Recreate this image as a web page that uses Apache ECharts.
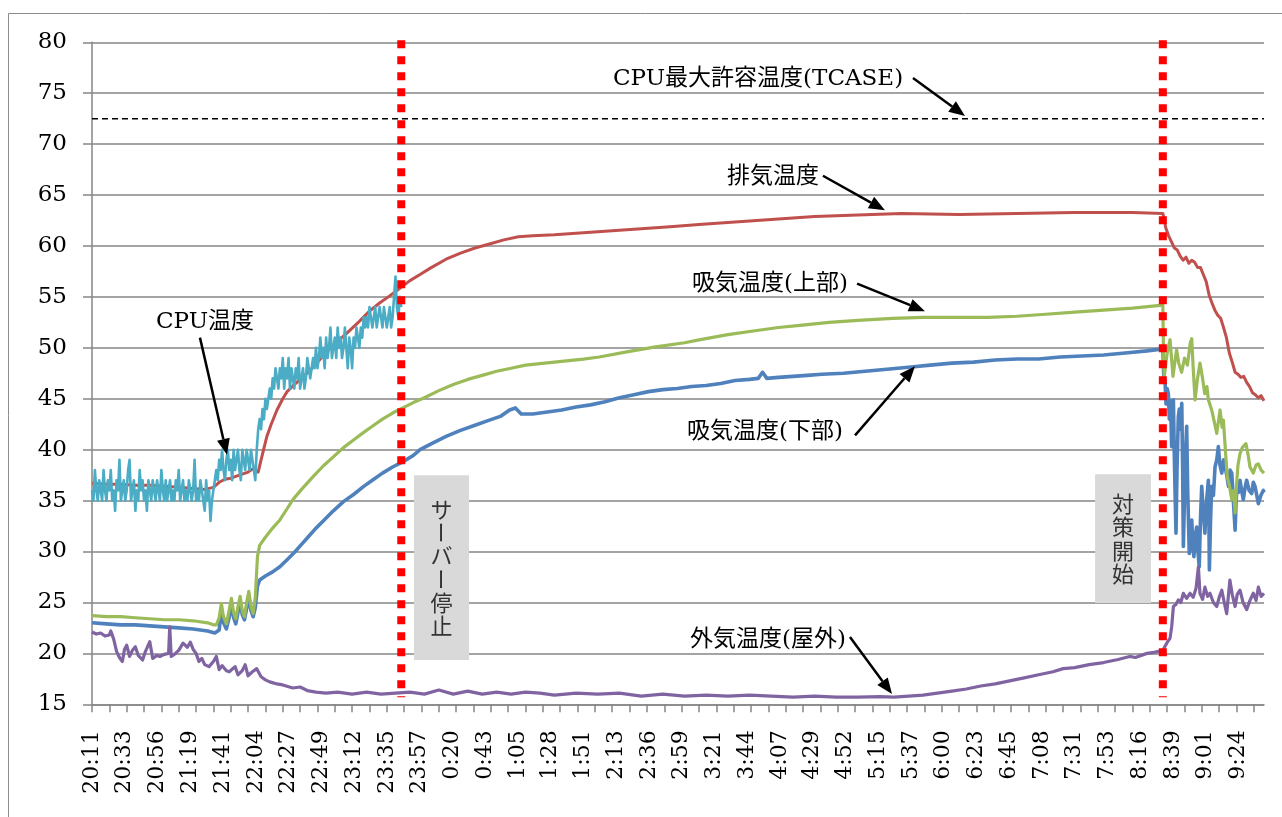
<!DOCTYPE html>
<html>
<head>
<meta charset="utf-8">
<script src="https://cdn.jsdelivr.net/npm/echarts@6/dist/echarts.min.js"></script>
<style>
  html, body { margin: 0; padding: 0; background: #fff; }
  #chart { width: 1282px; height: 817px; }
</style>
</head>
<body>
<div id="chart"></div>
<script>
// ---- time axis: minutes elapsed since 20:11 ----
const timeLabels = ['20:11','20:33','20:56','21:19','21:41','22:04','22:27','22:49','23:12','23:35',
  '23:57','0:20','0:43','1:05','1:28','1:51','2:13','2:36','2:59','3:21','3:44','4:07','4:29','4:52',
  '5:15','5:37','6:00','6:23','6:45','7:08','7:31','7:53','8:16','8:39','9:01','9:24'];

// CPU温度 (°C), one sample per minute from 20:11 until the server stop
const cpuTemp = [
  36,35,38,36,35,37,36,35,38,36, 35,37,36,38,35,36,34,37,36,39,
  35,36,37,35,36,38,39,35,36,37, 34,36,35,38,36,37,35,36,34,37,
  36,35,37,36,35,37,36,35,38,36, 35,37,35,36,37,35,36,35,37,36,
  38,35,36,37,35,36,35,37,36,35, 36,39,35,36,35,37,36,35,34,37,
  35,36,33,35,36,
  37,38,37,39,38,40,38,37,39,40, 38,39,37,40,38,39,40,38,37,40,
  39,38,40,39,38,40,39,38,37,40,
  42,43,42,44,43,45,44,45,46,45,47,46,48,47,46,48,
  47,49,46,48,47,49,46,48,47,46, 48,47,49,46,47,48,46,47,49,48,
  47,48,49,48,50,48,49,51,49,50, 48,51,49,50,52,49,50,51,49,52,
  50,51,49,50,52,50,48,51,50,48, 51,50,52,51,50,52,51,53,52,53,
  52,54,53,52,53,54,52,53,54,53, 52,54,53,52,53,54,52,53,55,57,
  54,53,55,54
];

// 排気温度 (°C): [minute, value]
const exhaustTemp = [
  [0,36.7],[10,36.6],[20,36.6],[30,36.5],[40,36.5],[50,36.4],[60,36.3],[70,36.2],[78,36.1],[84,36.3],
  [88,36.8],[92,37.1],[96,37.2],[100,37.4],[104,37.6],[108,37.8],[111,38.1],[113,37.9],[115,37.8],
  [117,39.0],[121,41.3],[124,42.5],[128,43.9],[132,45.0],[135,45.7],[140,46.4],[145,47.0],[151,47.8],
  [158,48.9],[165,50.0],[172,50.9],[176,51.4],[185,52.6],[192,53.6],[199,54.4],[206,55.1],[213,55.85],
  [220,56.6],[227,57.2],[235,57.9],[245,58.7],[255,59.3],[265,59.8],[275,60.2],[285,60.6],[295,60.9],
  [305,61.0],[320,61.1],[340,61.3],[360,61.5],[380,61.7],[400,61.9],[420,62.1],[440,62.3],[460,62.5],
  [480,62.7],[500,62.9],[520,63.0],[540,63.1],[560,63.2],[600,63.1],[640,63.2],[680,63.3],[720,63.3],
  [741,63.2],[742,62.6],[743,61.8],[745,61.0],[747,60.4],[749,59.8],[751,59.6],[753,59.0],[755,58.6],
  [757,58.9],[759,58.3],[761,58.6],[763,58.4],[765,57.9],[767,57.9],[769,57.2],[771,56.5],[773,55.2],
  [775,54.4],[777,53.7],[779,53.2],[781,52.9],[783,52.0],[785,51.0],[787,49.5],[789,48.6],[791,47.6],
  [793,47.4],[795,47.1],[797,47.2],[799,46.6],[801,46.2],[803,45.6],[805,45.4],[807,45.1],[809,45.3],
  [811,44.8]
];

// 吸気温度(上部) (°C)
const intakeUpper = [
  [0,23.7],[10,23.6],[20,23.6],[30,23.5],[40,23.4],[50,23.3],[60,23.3],[70,23.2],[80,23.0],[84,22.8],
  [86,22.8],[88,23.5],[89.5,24.9],[91,23.6],[93,22.9],[95,24.3],[96.5,25.4],[98,24.0],[99.5,23.4],
  [101,24.6],[102.5,25.6],[104,24.2],[105.5,23.6],[107,25.0],[108.5,26.1],[110,24.6],[111.5,23.9],
  [113,25.5],[114.5,29.5],[116,30.6],[120,31.4],[125,32.3],[130,33.1],[135,34.2],[139,35.1],[145,36.1],
  [153,37.35],[160,38.4],[167,39.3],[174,40.2],[181,40.95],[188,41.7],[194,42.3],[201,43.0],[208,43.6],
  [215,44.1],[222,44.6],[230,45.1],[240,45.8],[250,46.4],[260,46.9],[270,47.3],[280,47.7],[290,48.0],
  [300,48.3],[320,48.6],[340,48.9],[351,49.1],[370,49.6],[390,50.1],[410,50.5],[421,50.8],[440,51.3],
  [460,51.7],[475,52.0],[490,52.2],[510,52.5],[530,52.7],[554,52.9],[575,53.0],[600,53.0],[620,53.0],
  [640,53.1],[660,53.3],[680,53.5],[700,53.7],[720,53.9],[741,54.2],
  [741.5,49.0],[742,47.2],[744,49.5],[746,50.8],[748,47.2],[750.5,49.8],[752,48.5],[754,47.6],[756,49.0],
  [758,48.3],[760,50.5],[761,50.9],[762,48.0],[763.3,44.9],[765,47.0],[766.7,48.5],[768.5,47.0],
  [770,45.5],[771.5,46.2],[772.5,44.9],[774.8,43.9],[776.5,42.8],[778.3,41.6],[780.6,43.9],[782,42.2],
  [782.9,42.9],[784.5,39.5],[785.6,37.3],[787,36.5],[788.7,35.1],[790,36.0],[791,33.8],[792,36.5],
  [793,38.5],[794.4,39.6],[796,40.2],[798.5,40.6],[800,39.5],[801.3,38.3],[803.6,37.7],[805.5,38.5],
  [807.1,38.6],[809,38.0],[811,37.7]
];

// 吸気温度(下部) (°C)
const intakeLower = [
  [0,23.0],[10,22.9],[20,22.8],[30,22.8],[40,22.7],[50,22.6],[60,22.5],[70,22.4],[80,22.2],[85,22.0],
  [88,22.3],[89.5,24.2],[91,23.0],[93,22.4],[95,23.6],[96.5,24.8],[98,23.5],[99.5,22.9],[101,24.0],
  [102.5,25.0],[104,23.8],[105.5,23.3],[107,24.4],[108.5,25.6],[110,24.2],[111.5,23.6],[113,24.5],
  [114.5,26.6],[116,27.2],[120,27.6],[125,28.0],[130,28.5],[135,29.2],[140,29.9],[145,30.7],[150,31.5],
  [155,32.3],[160,33.0],[167,34.0],[174,34.9],[181,35.6],[188,36.4],[194,37.0],[201,37.7],[208,38.3],
  [215,38.8],[222,39.4],[227,40.0],[235,40.6],[245,41.3],[255,41.9],[265,42.4],[275,42.9],[283,43.3],
  [289,43.9],[293,44.1],[297,43.5],[305,43.5],[315,43.7],[325,43.9],[335,44.2],[345,44.4],[355,44.7],
  [365,45.1],[375,45.4],[385,45.7],[395,45.9],[405,46.0],[415,46.2],[425,46.3],[435,46.5],[445,46.8],
  [455,46.9],[461,47.0],[464,47.6],[467,47.0],[475,47.1],[485,47.2],[495,47.3],[505,47.4],[520,47.5],
  [535,47.7],[550,47.9],[565,48.1],[580,48.3],[595,48.5],[610,48.6],[625,48.8],[640,48.9],[655,48.9],
  [670,49.1],[685,49.2],[700,49.3],[715,49.5],[730,49.7],[741,49.9],
  [741.7,47.0],[742.5,46.8],[743.2,44.5],[744,46.0],[744.8,45.5],[745.5,43.0],[746.3,44.8],[747.1,40.3],
  [747.7,43.5],[748.3,44.9],[749,39.0],[749.6,35.0],[750.1,31.8],[750.8,38.0],[751.7,43.2],[752.4,44.0],
  [753.2,42.0],[754.1,44.55],[754.7,38.0],[755.2,30.5],[756,35.5],[756.8,40.0],[757.5,42.3],[758.2,36.0],
  [759.3,29.8],[760.2,31.0],[761,33.1],[761.8,30.5],[762.5,29.5],[763.4,31.5],[764.4,32.4],[765.3,30.0],
  [766.2,28.5],[767,33.0],[767.9,36.4],[769,34.0],[770.1,31.8],[771.3,35.0],[772.5,37.0],[772.9,33.0],
  [773.2,28.2],[774,33.0],[774.8,36.4],[776,35.5],[777.1,38.3],[778.3,39.0],[779.4,40.3],[780.5,38.5],
  [781.8,37.7],[783,39.0],[784.1,38.3],[785.2,37.5],[786.4,36.4],[787.5,38.0],[788.7,37.7],[789.8,35.0],
  [791,32.1],[791.6,34.5],[792.2,36.4],[793.3,35.8],[794.4,37.0],[795.5,36.0],[796.7,35.1],[797.8,36.2],
  [799,37.0],[800.7,36.0],[802.5,35.7],[803.6,36.8],[804.8,36.4],[806,35.5],[807.1,34.7],[808.8,35.5],
  [810.5,36.0],[811,35.8]
];

// 外気温度(屋外) (°C)
const outdoorTemp = [
  [0,22.1],[3,21.9],[6,22.0],[9,21.7],[12,21.8],[13,22.2],[15,21.4],[17,20.2],[19,19.6],[21,19.2],
  [22.5,20.4],[24,20.8],[26,19.7],[28,20.3],[30,20.65],[32,19.8],[35,19.35],[37,20.2],[40,21.15],
  [42,19.5],[45,19.8],[47,19.7],[50,19.9],[53,20.0],[53.8,22.6],[54.8,19.7],[57,19.9],[60,20.3],
  [63,21.0],[66,20.6],[68,21.1],[70,20.4],[72,20.0],[74,19.2],[76,19.5],[78,18.9],[81,18.7],[84,19.2],
  [86,19.7],[88,18.4],[90,18.8],[93,18.3],[95,18.2],[99,18.7],[101,17.9],[104,18.3],[106,18.9],
  [108,17.8],[111,18.2],[114,18.5],[117,17.7],[120,17.4],[123,17.2],[128,17.0],[132,16.9],[139,16.6],
  [144,16.7],[149,16.35],[155,16.2],[162,16.1],[170,16.2],[180,16.0],[190,16.2],[200,16.0],[210,16.1],
  [220,16.2],[230,16.0],[240,16.4],[250,16.0],[260,16.3],[270,16.0],[280,16.2],[290,16.0],[300,16.2],
  [310,16.1],[320,15.9],[335,16.1],[350,16.0],[365,16.1],[380,15.8],[395,16.0],[410,15.8],[425,15.9],
  [440,15.8],[455,15.9],[470,15.8],[485,15.7],[500,15.8],[515,15.7],[530,15.7],[545,15.75],[555,15.7],
  [565,15.8],[575,15.9],[585,16.1],[595,16.3],[605,16.5],[615,16.8],[625,17.0],[635,17.3],[645,17.6],
  [655,17.9],[665,18.2],[672,18.5],[680,18.6],[690,18.9],[700,19.1],[710,19.4],[718,19.7],[722,19.6],
  [730,20.0],[735,20.1],[741,20.3],[743.7,21.0],[746,21.5],[747.1,22.6],[748.3,24.6],[750,24.8],
  [751.7,25.25],[753.5,25.0],[755.2,25.9],[757.5,25.4],[759.8,25.9],[762,25.5],[764,26.4],[765.6,28.5],
  [766.7,25.9],[768.5,25.3],[770.1,26.5],[772,25.6],[773.6,25.9],[776,25.0],[778.3,24.6],[780,25.5],
  [781.8,26.2],[783.5,25.0],[785.2,23.9],[787.4,27.2],[789,25.8],[791,24.6],[792.5,25.8],[794.4,26.2],
  [796.5,25.0],[799,24.3],[801.3,25.2],[803.6,25.9],[805.5,25.2],[807.1,26.5],[809,25.6],[811,25.9]
];

// CPU maximum case temperature (°C)
const tcaseLimit = 72.5;
// event times in minutes: server stopped (23:45), countermeasure started (8:32)
const eventTimes = [214, 741];

// ---- layout / styling ----
const SERIF = "'DejaVu Serif', 'Noto Sans CJK JP', serif";
const X_MAX = 811;             // 20:11 .. 9:42
const LABEL_STEP = 68 / 3;     // minutes between time labels
const TICK_STEP = 12;          // minutes between tick marks
const GRID_GRAY = '#868686';

const labelPositions = timeLabels.map((_, i) => i * LABEL_STEP);
const tickPositions = [];
for (let t = 0; t <= X_MAX; t += TICK_STEP) tickPositions.push(t);

// callouts: text centre and arrow (tail -> head), in chart coordinates
const callouts = [
  { text: 'CPU最大許容温度(TCASE)', at: [460.9, 76.4], from: [568.1, 76.5], to: [604.1, 72.76] },
  { text: '排気温度',               at: [471.2, 66.8], from: [505.8, 66.9], to: [548.7, 63.5] },
  { text: '吸気温度(上部)',         at: [469.2, 56.3], from: [529.4, 56.3], to: [576.4, 53.6] },
  { text: '吸気温度(下部)',         at: [465.7, 41.7], from: [528.0, 41.4], to: [569.5, 48.2] },
  { text: '外気温度(屋外)',         at: [467.8, 21.3], from: [524.5, 21.6], to: [553.6, 16.0] },
  { text: 'CPU温度',                at: [78.2, 52.5],  from: [74.7, 51.0],  to: [93.4, 39.5] }
];
// grey boxes with vertical captions
const captionBoxes = [
  { text: 'サーバー停止', x0: 222.8, x1: 260.9, top: 37.5, bottom: 19.35 },
  { text: '対策開始',     x0: 694.1, x1: 732.8, top: 37.6, bottom: 24.95 }
];

function lineSeries(name, data, color, width, z) {
  return {
    name, type: 'line', data, z,
    showSymbol: false, symbol: 'none', sampling: null, silent: true,
    lineStyle: { color, width, join: 'round' }
  };
}

const chart = echarts.init(document.getElementById('chart'), null, { renderer: 'canvas' });

const option = {
  animation: false,
  backgroundColor: '#ffffff',
  textStyle: { fontFamily: SERIF },
  graphic: [{
    type: 'rect', silent: true, z: -10,
    shape: { x: 8.5, y: 13.5, width: 1400, height: 900 },
    style: { fill: 'none', stroke: '#8c8c8c', lineWidth: 1 }
  }],
  grid: { left: 92, right: 18, top: 42.3, bottom: 112.7, containLabel: false },
  xAxis: {
    type: 'value', min: 0, max: X_MAX,
    axisLine: { show: true, onZero: false, lineStyle: { color: GRID_GRAY, width: 1.5 } },
    axisTick: { show: true, length: 8, customValues: tickPositions, lineStyle: { color: GRID_GRAY, width: 1.5 } },
    axisLabel: {
      show: true, customValues: labelPositions, rotate: 90, margin: 26,
      fontSize: 22, color: '#000', fontFamily: SERIF,
      formatter: (v) => {
        const k = Math.round(v / LABEL_STEP);
        return Math.abs(v - k * LABEL_STEP) < 0.01 && timeLabels[k] ? timeLabels[k] : '';
      }
    },
    splitLine: { show: false }
  },
  yAxis: {
    type: 'value', min: 15, max: 80, interval: 5,
    axisLine: { show: true, lineStyle: { color: GRID_GRAY, width: 1.5 } },
    axisTick: { show: true, length: 9, lineStyle: { color: GRID_GRAY, width: 1.5 } },
    axisLabel: { fontSize: 23, margin: 25, color: '#000', fontFamily: SERIF },
    splitLine: { show: true, lineStyle: { color: GRID_GRAY, width: 1.5 } }
  },
  series: [
    {
      name: 'CPU最大許容温度(TCASE)', type: 'line', z: 3, silent: true,
      showSymbol: false, symbol: 'none',
      data: [[0, tcaseLimit], [X_MAX, tcaseLimit]],
      lineStyle: { color: '#000', width: 1.5, type: [6, 4] }
    },
    lineSeries('吸気温度(下部)', intakeLower, '#4F81BD', 3.6, 4),
    lineSeries('排気温度', exhaustTemp, '#C0504D', 3, 5),
    lineSeries('吸気温度(上部)', intakeUpper, '#9BBB59', 3.2, 6),
    lineSeries('外気温度(屋外)', outdoorTemp, '#8064A2', 3.2, 7),
    lineSeries('CPU温度', cpuTemp.map((v, i) => [i, v]), '#4BACC6', 2.6, 8),
    {
      // grey caption boxes
      type: 'custom', coordinateSystem: 'cartesian2d', silent: true, clip: false, z: 9,
      data: captionBoxes.map(b => [b.x0, b.top]),
      renderItem(params, api) {
        const b = captionBoxes[params.dataIndex];
        const p0 = api.coord([b.x0, b.top]);
        const p1 = api.coord([b.x1, b.bottom]);
        const chars = Array.from(b.text);
        const cx = (p0[0] + p1[0]) / 2, cy = (p0[1] + p1[1]) / 2;
        const step = 23.3;
        const children = [{
          type: 'rect',
          shape: { x: p0[0], y: p0[1], width: p1[0] - p0[0], height: p1[1] - p0[1] },
          style: { fill: '#D9D9D9' }
        }];
        chars.forEach((ch, k) => {
          children.push({
            type: 'text',
            x: cx, y: cy + (k - (chars.length - 1) / 2) * step,
            rotation: ch === 'ー' ? -Math.PI / 2 : 0,
            style: {
              text: ch, x: 0, y: 0, align: 'center', verticalAlign: 'middle',
              fontSize: 22, fontFamily: "'Noto Sans CJK JP', sans-serif", fill: '#333'
            }
          });
        });
        return { type: 'group', children };
      }
    },
    {
      // dotted event markers
      type: 'custom', coordinateSystem: 'cartesian2d', silent: true, clip: false, z: 10,
      data: eventTimes.map(t => [t, 80]),
      renderItem(params, api) {
        const t = api.value(0);
        const a = api.coord([t, 80.2]);
        const b = api.coord([t, 15.7]);
        return {
          type: 'line',
          shape: { x1: a[0], y1: a[1], x2: b[0], y2: b[1] },
          style: { stroke: '#FF0000', lineWidth: 8, lineDash: [8, 8], lineCap: 'butt' }
        };
      }
    },
    {
      // callout texts and arrows
      type: 'custom', coordinateSystem: 'cartesian2d', silent: true, clip: false, z: 11,
      data: callouts.map(c => c.at),
      renderItem(params, api) {
        const c = callouts[params.dataIndex];
        const t = api.coord(c.at);
        const p1 = api.coord(c.from);
        const p2 = api.coord(c.to);
        const dx = p2[0] - p1[0], dy = p2[1] - p1[1];
        const len = Math.hypot(dx, dy), ux = dx / len, uy = dy / len;
        const head = 16, half = 6.5;
        const bx = p2[0] - ux * head, by = p2[1] - uy * head;
        return {
          type: 'group',
          children: [
            {
              type: 'text', x: t[0], y: t[1],
              style: {
                text: c.text, x: 0, y: 0, align: 'center', verticalAlign: 'middle',
                fontSize: 23, fontFamily: SERIF, fill: '#000'
              }
            },
            {
              type: 'line',
              shape: { x1: p1[0], y1: p1[1], x2: bx, y2: by },
              style: { stroke: '#000', lineWidth: 2.5 }
            },
            {
              type: 'polygon',
              shape: { points: [[p2[0], p2[1]], [bx - uy * half, by + ux * half], [bx + uy * half, by - ux * half]] },
              style: { fill: '#000' }
            }
          ]
        };
      }
    }
  ]
};

chart.setOption(option);
</script>
</body>
</html>
